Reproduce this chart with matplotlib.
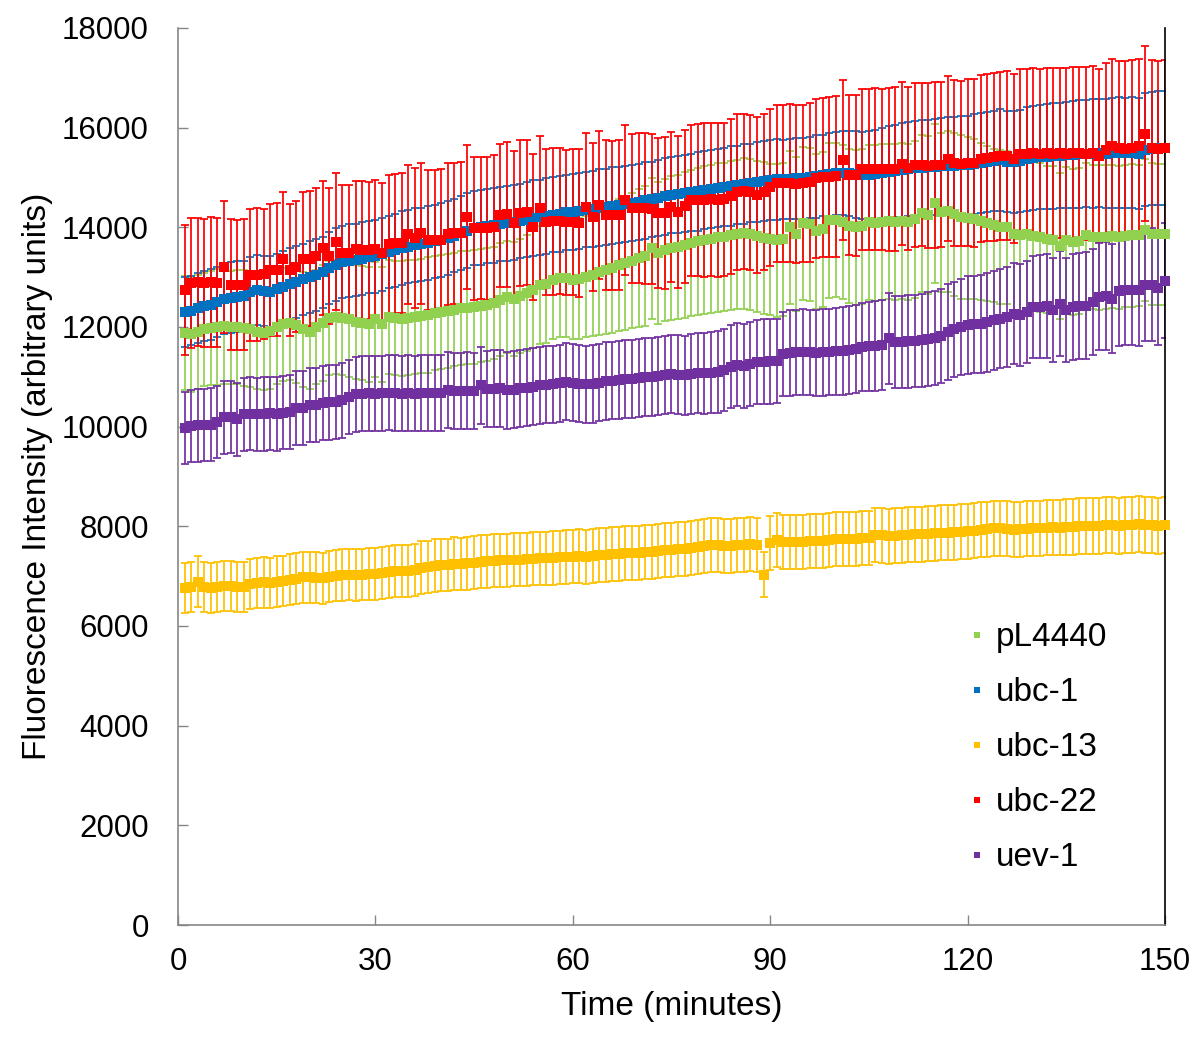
import matplotlib
matplotlib.use("Agg")
import matplotlib.pyplot as plt
from matplotlib.lines import Line2D
import numpy as np

plt.rcParams['font.family'] = ['Liberation Sans', 'DejaVu Sans']

time_min = list(range(1, 151))

series_names = ["pL4440", "ubc-1", "ubc-13", "ubc-22", "uev-1"]
series_colors = ["#92D050", "#0070C0", "#FFC000", "#FF0000", "#7030A0"]

pL4440 = [
    11880, 11850, 11900, 11950, 11980, 12000, 12010, 11990, 12000, 11980,
    11950, 11900, 11880, 11920, 12000, 12050, 12080, 12030, 11950, 11900,
    12000, 12080, 12180, 12200, 12180, 12150, 12100, 12080, 12050, 12150,
    12050, 12200, 12180, 12170, 12190, 12200, 12220, 12240, 12280, 12300,
    12320, 12350, 12380, 12390, 12400, 12430, 12450, 12480, 12550, 12600,
    12560, 12620, 12680, 12750, 12840, 12860, 12950, 12980, 12990, 12950,
    12970, 13010, 13050, 13100, 13140, 13180, 13240, 13280, 13330, 13380,
    13420, 13580, 13480, 13540, 13580, 13600, 13640, 13680, 13720, 13750,
    13770, 13800, 13810, 13840, 13860, 13880, 13860, 13820, 13790, 13760,
    13740, 13760, 14000, 13870, 14080, 14060, 13920, 13960, 14140, 14150,
    14110, 14030, 14000, 14020, 14100, 14090, 14110, 14120, 14110, 14130,
    14110, 14160, 14280, 14250, 14480, 14300, 14320, 14260, 14210, 14190,
    14170, 14120, 14080, 14040, 14010, 14000, 13860, 13840, 13860, 13830,
    13800, 13760, 13740, 13620, 13740, 13700, 13720, 13850, 13810, 13800,
    13810, 13820, 13800, 13830, 13840, 13840, 13950, 13870, 13860, 13860]
pL4440_err = [
    1150, 1160, 1150, 1140, 1150, 1160, 1150, 1140, 1150, 1160,
    1150, 1140, 1150, 1160, 1150, 1140, 1150, 1160, 1150, 1140,
    1150, 1160, 1150, 1140, 1150, 1160, 1150, 1140, 1150, 1160,
    1150, 1140, 1150, 1160, 1150, 1140, 1150, 1160, 1150, 1140,
    1140, 1130, 1140, 1130, 1140, 1130, 1140, 1130, 1130, 1130,
    1140, 1150, 1160, 1170, 1180, 1180, 1190, 1190, 1200, 1200,
    1210, 1220, 1240, 1260, 1280, 1300, 1320, 1340, 1360, 1380,
    1400, 1410, 1420, 1430, 1440, 1450, 1460, 1460, 1470, 1480,
    1480, 1490, 1490, 1500, 1500, 1510, 1510, 1520, 1520, 1520,
    1530, 1530, 1530, 1540, 1540, 1540, 1550, 1550, 1550, 1550,
    1550, 1550, 1550, 1550, 1550, 1560, 1560, 1560, 1560, 1560,
    1560, 1570, 1570, 1580, 1590, 1600, 1620, 1630, 1640, 1620,
    1600, 1580, 1560, 1540, 1540, 1530, 1520, 1510, 1500, 1500,
    1490, 1480, 1480, 1470, 1470, 1460, 1460, 1450, 1450, 1450,
    1440, 1440, 1430, 1430, 1430, 1420, 1420, 1420, 1420, 1420]

ubc1 = [
    12300, 12330, 12380, 12420, 12450, 12500, 12560, 12590, 12610, 12630,
    12700, 12740, 12720, 12700, 12760, 12800, 12870, 12900, 12960, 13000,
    13050, 13100, 13180, 13250, 13310, 13330, 13350, 13370, 13400, 13420,
    13460, 13500, 13540, 13580, 13610, 13640, 13660, 13690, 13720, 13750,
    13790, 13830, 13880, 13930, 13980, 14000, 14020, 14040, 14060, 14080,
    14100, 14130, 14150, 14180, 14200, 14220, 14250, 14270, 14300, 14310,
    14330, 14350, 14370, 14390, 14410, 14430, 14450, 14470, 14490, 14510,
    14540, 14560, 14590, 14620, 14650, 14660, 14680, 14700, 14720, 14750,
    14770, 14790, 14810, 14830, 14850, 14870, 14890, 14910, 14930, 14950,
    14960, 14960, 14970, 14980, 14980, 15000, 15020, 15040, 15060, 15080,
    15090, 15080, 15060, 15040, 15040, 15060, 15090, 15110, 15130, 15150,
    15170, 15180, 15190, 15200, 15210, 15220, 15230, 15240, 15250, 15250,
    15270, 15290, 15310, 15330, 15350, 15320, 15310, 15330, 15370, 15390,
    15410, 15420, 15430, 15440, 15450, 15460, 15470, 15480, 15480, 15490,
    15480, 15490, 15500, 15490, 15500, 15480, 15560, 15580, 15590, 15590]
ubc1_err = [
    700, 700, 710, 700, 710, 700, 710, 720, 710, 700,
    710, 700, 710, 720, 710, 720, 710, 720, 710, 720,
    720, 710, 720, 730, 720, 730, 720, 730, 720, 730,
    730, 720, 730, 740, 730, 740, 730, 740, 730, 740,
    740, 730, 740, 750, 740, 750, 740, 750, 740, 750,
    750, 740, 750, 760, 750, 760, 750, 760, 750, 760,
    760, 750, 760, 770, 760, 770, 760, 770, 760, 770,
    770, 760, 770, 780, 770, 780, 770, 780, 790, 780,
    790, 780, 790, 800, 790, 800, 790, 800, 810, 800,
    810, 800, 810, 820, 810, 820, 830, 820, 830, 840,
    850, 860, 870, 880, 890, 900, 910, 920, 930, 940,
    950, 950, 960, 960, 970, 970, 980, 980, 990, 990,
    1000, 1000, 1010, 1010, 1020, 1020, 1030, 1030, 1040, 1040,
    1050, 1050, 1060, 1060, 1070, 1070, 1080, 1080, 1090, 1090,
    1100, 1100, 1110, 1110, 1120, 1120, 1130, 1130, 1140, 1140]

ubc13 = [
    6770, 6790, 6890, 6780, 6770, 6790, 6800, 6800, 6790, 6780,
    6850, 6870, 6880, 6870, 6890, 6900, 6930, 6950, 6980, 6980,
    6970, 6960, 6990, 7010, 7020, 7030, 7020, 7030, 7050, 7040,
    7060, 7080, 7100, 7110, 7110, 7130, 7170, 7190, 7210, 7220,
    7230, 7250, 7240, 7260, 7270, 7290, 7300, 7310, 7320, 7320,
    7330, 7330, 7340, 7350, 7360, 7360, 7370, 7380, 7380, 7390,
    7400, 7390, 7410, 7420, 7430, 7440, 7450, 7460, 7470, 7470,
    7480, 7490, 7500, 7520, 7530, 7540, 7550, 7560, 7580, 7600,
    7620, 7630, 7610, 7600, 7620, 7630, 7640, 7620, 7030, 7670,
    7730, 7680, 7690, 7680, 7690, 7700, 7700, 7700, 7720, 7740,
    7740, 7750, 7750, 7760, 7760, 7830, 7820, 7800, 7810, 7820,
    7830, 7840, 7840, 7850, 7860, 7870, 7870, 7880, 7890, 7900,
    7910, 7930, 7940, 7960, 7960, 7950, 7930, 7940, 7950, 7960,
    7960, 7970, 7980, 7970, 7980, 7990, 8000, 8010, 8000, 8010,
    8020, 8020, 8010, 8030, 8020, 8040, 8030, 8020, 8010, 8020]
ubc13_err = [
    500, 500, 510, 500, 500, 500, 500, 500, 500, 500,
    500, 500, 510, 500, 510, 500, 510, 510, 510, 510,
    510, 510, 510, 510, 520, 510, 520, 510, 520, 520,
    520, 520, 520, 520, 520, 520, 530, 520, 530, 520,
    520, 530, 520, 530, 530, 530, 530, 530, 530, 530,
    530, 530, 530, 530, 530, 530, 540, 530, 540, 530,
    540, 540, 540, 540, 540, 540, 540, 540, 540, 540,
    540, 540, 540, 540, 540, 540, 540, 540, 540, 540,
    540, 540, 540, 540, 540, 540, 540, 540, 450, 540,
    540, 540, 540, 540, 540, 540, 540, 540, 540, 540,
    540, 540, 540, 540, 540, 540, 550, 550, 550, 550,
    550, 550, 550, 550, 550, 550, 550, 550, 550, 550,
    550, 550, 550, 550, 550, 550, 550, 550, 550, 550,
    550, 550, 550, 550, 560, 560, 560, 560, 560, 560,
    560, 560, 560, 560, 560, 560, 560, 560, 560, 560]

ubc22 = [
    12740, 12880, 12900, 12880, 12900, 12890, 13200, 12850, 12840, 12850,
    13040, 13050, 13060, 13140, 13150, 13360, 13140, 13210, 13360, 13370,
    13430, 13580, 13420, 13710, 13490, 13490, 13560, 13550, 13540, 13560,
    13490, 13660, 13680, 13690, 13860, 13780, 13880, 13750, 13740, 13750,
    13870, 13880, 13890, 14210, 13980, 13990, 13980, 14000, 14240, 14260,
    14080, 14290, 14300, 14010, 14380, 14110, 14120, 14130, 14100, 14110,
    14090, 14410, 14210, 14450, 14250, 14240, 14250, 14550, 14380, 14390,
    14380, 14370, 14290, 14290, 14410, 14310, 14420, 14540, 14550, 14550,
    14560, 14550, 14560, 14620, 14710, 14720, 14700, 14650, 14710, 14800,
    14880, 14880, 14890, 14870, 14880, 14900, 14980, 15000, 15010, 15020,
    15350, 15050, 15040, 15160, 15160, 15170, 15160, 15160, 15170, 15280,
    15180, 15250, 15260, 15240, 15250, 15260, 15380, 15290, 15280, 15300,
    15290, 15380, 15400, 15410, 15430, 15440, 15380, 15480, 15480, 15490,
    15480, 15490, 15480, 15490, 15480, 15490, 15500, 15480, 15490, 15440,
    15560, 15630, 15590, 15580, 15590, 15630, 15880, 15590, 15580, 15590]
ubc22_err = [
    1300, 1310, 1290, 1280, 1300, 1290, 1330, 1320, 1300, 1310,
    1320, 1330, 1310, 1320, 1330, 1340, 1330, 1320, 1340, 1350,
    1350, 1340, 1360, 1370, 1350, 1360, 1370, 1380, 1370, 1380,
    1390, 1380, 1390, 1400, 1390, 1400, 1410, 1400, 1410, 1420,
    1420, 1410, 1430, 1440, 1430, 1420, 1440, 1450, 1440, 1450,
    1450, 1460, 1450, 1470, 1460, 1470, 1480, 1470, 1460, 1470,
    1480, 1490, 1480, 1490, 1500, 1490, 1500, 1510, 1490, 1500,
    1510, 1500, 1510, 1520, 1510, 1520, 1530, 1520, 1530, 1540,
    1540, 1550, 1540, 1550, 1560, 1550, 1560, 1570, 1560, 1570,
    1580, 1570, 1580, 1590, 1580, 1590, 1600, 1590, 1600, 1610,
    1610, 1600, 1620, 1610, 1620, 1630, 1620, 1630, 1640, 1630,
    1640, 1650, 1640, 1650, 1660, 1650, 1660, 1670, 1660, 1670,
    1680, 1670, 1680, 1690, 1680, 1690, 1700, 1690, 1700, 1710,
    1700, 1710, 1720, 1710, 1720, 1730, 1720, 1730, 1740, 1730,
    1740, 1750, 1740, 1750, 1760, 1750, 1760, 1770, 1760, 1770]

uev1 = [
    9970, 10020, 10030, 10030, 10040, 10100, 10190, 10200, 10150, 10250,
    10260, 10250, 10260, 10270, 10260, 10280, 10300, 10370, 10380, 10430,
    10440, 10470, 10490, 10500, 10530, 10600, 10650, 10660, 10670, 10660,
    10670, 10680, 10670, 10660, 10670, 10660, 10670, 10680, 10680, 10670,
    10730, 10720, 10710, 10720, 10710, 10830, 10750, 10760, 10770, 10730,
    10740, 10770, 10780, 10800, 10830, 10840, 10850, 10870, 10900, 10880,
    10860, 10850, 10860, 10880, 10910, 10920, 10940, 10950, 10960, 10970,
    10990, 11000, 11020, 11040, 11050, 11040, 11030, 11050, 11070, 11070,
    11080, 11090, 11140, 11200, 11240, 11220, 11260, 11290, 11300, 11310,
    11320, 11460, 11480, 11490, 11500, 11490, 11480, 11490, 11500, 11510,
    11520, 11540, 11560, 11600, 11610, 11620, 11640, 11770, 11700, 11700,
    11710, 11720, 11730, 11760, 11780, 11820, 11900, 11950, 12000, 12040,
    12050, 12060, 12090, 12130, 12170, 12200, 12270, 12240, 12300, 12400,
    12410, 12420, 12340, 12470, 12340, 12400, 12420, 12430, 12500, 12610,
    12620, 12570, 12720, 12740, 12750, 12740, 12840, 12850, 12780, 12930]
uev1_err = [
    720, 720, 730, 720, 730, 720, 730, 720, 730, 730,
    730, 730, 740, 730, 740, 730, 740, 740, 740, 740,
    740, 740, 750, 740, 750, 740, 750, 750, 750, 750,
    750, 750, 760, 750, 760, 750, 760, 760, 760, 760,
    760, 760, 760, 770, 760, 770, 760, 770, 770, 770,
    770, 770, 770, 770, 770, 770, 770, 770, 770, 770,
    770, 770, 780, 770, 780, 770, 780, 780, 780, 780,
    780, 780, 780, 780, 780, 790, 790, 800, 800, 810,
    810, 820, 820, 830, 830, 840, 840, 840, 850, 850,
    850, 850, 860, 860, 860, 860, 870, 870, 870, 870,
    880, 880, 890, 890, 900, 900, 910, 910, 920, 920,
    930, 930, 940, 940, 950, 950, 960, 960, 970, 980,
    980, 990, 990, 1000, 1000, 1010, 1010, 1020, 1020, 1030,
    1030, 1040, 1040, 1050, 1050, 1060, 1060, 1070, 1070, 1080,
    1090, 1090, 1100, 1100, 1110, 1120, 1120, 1130, 1140, 1150]

x_ticks = [0, 30, 60, 90, 120, 150]
y_ticks = [0, 2000, 4000, 6000, 8000, 10000, 12000, 14000, 16000, 18000]

values = [pL4440, ubc1, ubc13, ubc22, uev1]
errors = [pL4440_err, ubc1_err, ubc13_err, ubc22_err, uev1_err]

fig = plt.figure(figsize=(12, 10.39), dpi=100)
ax = fig.add_axes([0.1483, 0.1097, 0.8225, 0.8634])

for i, (name, col, v, e) in enumerate(zip(series_names, series_colors, values, errors)):
    ax.errorbar(time_min, v, yerr=e, fmt='none', ecolor=col, elinewidth=1.25,
                capsize=3.2, capthick=1.25, zorder=2 + i * 0.1)
for i, (name, col, v) in enumerate(zip(series_names, series_colors, values)):
    ax.plot(time_min, v, linestyle='none', marker='s', markersize=7.2,
            markerfacecolor=col, markeredgewidth=0, zorder=4 + i * 0.1,
            clip_on=False)

ax.set_xlim(0, 150)
ax.set_ylim(0, 18000)
ax.set_xticks(x_ticks)
ax.set_yticks(y_ticks)
ax.tick_params(axis='both', direction='in', length=7, width=1, color='#868686',
               labelsize=22.5, labelcolor='black')
ax.tick_params(axis='y', pad=21)
ax.tick_params(axis='x', pad=16)

for s in ['left', 'bottom']:
    ax.spines[s].set_color('#868686')
    ax.spines[s].set_linewidth(1.2)
ax.spines['top'].set_visible(False)
ax.spines['right'].set_color('black')
ax.spines['right'].set_linewidth(1.2)

ax.set_xlabel('Time (minutes)', fontsize=24, labelpad=10)
ax.set_ylabel('Fluorescence Intensity (arbitrary units)', fontsize=24, labelpad=6)

handles = [Line2D([], [], linestyle='none', marker='s', markersize=5,
                  markerfacecolor=c, markeredgewidth=0) for c in series_colors]
ax.legend(handles, series_names, loc='upper left', bbox_to_anchor=(0.806, 0.401),
          bbox_transform=fig.transFigure, frameon=False, fontsize=24,
          handlelength=0.6, handletextpad=0.25, labelspacing=0.72,
          borderaxespad=0, borderpad=0)

fig.savefig('out.png', dpi=100)
